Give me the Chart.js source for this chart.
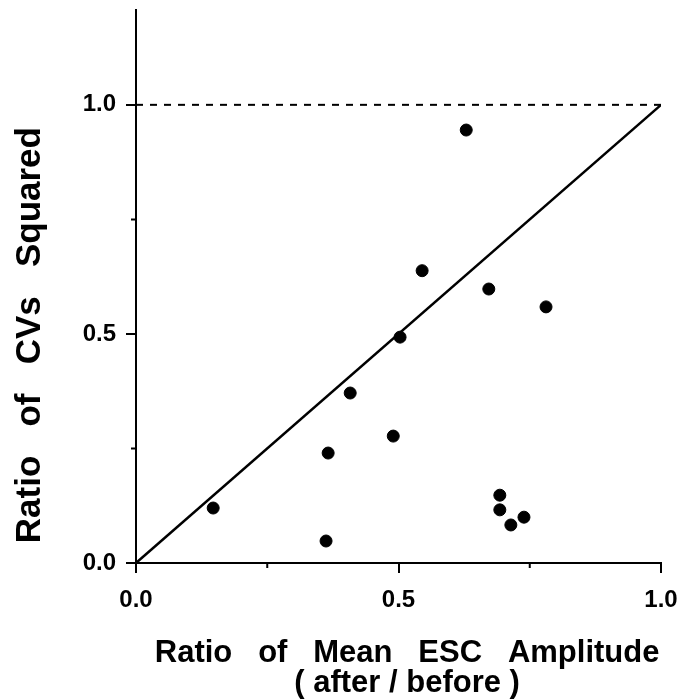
<!DOCTYPE html>
<html>
<head>
<meta charset="utf-8">
<script src="https://cdn.jsdelivr.net/npm/chart.js@4.4.1/dist/chart.umd.min.js"></script>
<style>
html,body{margin:0;padding:0;background:#fff;}
#wrap{width:692px;height:700px;}
</style>
</head>
<body>
<div id="wrap"><canvas id="c" width="692" height="700"></canvas></div>
<script>
// Data
const meanRatio = [0.629, 0.545, 0.672, 0.781, 0.503, 0.408, 0.490, 0.366, 0.147, 0.362, 0.693, 0.693, 0.714, 0.739];
const cvRatio   = [0.945, 0.638, 0.598, 0.559, 0.493, 0.371, 0.277, 0.240, 0.120, 0.048, 0.148, 0.116, 0.083, 0.100];
const identityX = [0, 1];
const identityY = [0, 1];
const refLineX = [0, 1];
const refLineY = [1, 1];
const xMajorTicks = [0, 0.5, 1.0];
const yMajorTicks = [0, 0.5, 1.0];
const xMinorTicks = [0.25, 0.75];
const yMinorTicks = [0.25, 0.75];
const xTitle = ['\u00a0\u00a0Ratio   of   Mean   ESC   Amplitude', '\u00a0\u00a0( after / before )'];
const yTitle = 'Ratio   of   CVs   Squared' + '\u00a0'.repeat(10);

const pts = meanRatio.map((x, i) => ({x: x, y: cvRatio[i]}));
const idLine = identityX.map((x, i) => ({x: x, y: identityY[i]}));
const refLine = refLineX.map((x, i) => ({x: x, y: refLineY[i]}));

const FONT = '"Liberation Sans", Arial, Helvetica, sans-serif';

const minorTicks = {
  id: 'minorTicks',
  afterDraw(chart) {
    const ctx = chart.ctx;
    const xs = chart.scales.x, ys = chart.scales.y;
    ctx.save();
    ctx.strokeStyle = '#000';
    ctx.lineWidth = 2;
    ctx.beginPath();
    xMinorTicks.forEach(v => {
      const px = xs.getPixelForValue(v);
      ctx.moveTo(px, chart.chartArea.bottom);
      ctx.lineTo(px, chart.chartArea.bottom + 5);
    });
    yMinorTicks.forEach(v => {
      const py = ys.getPixelForValue(v);
      ctx.moveTo(chart.chartArea.left, py);
      ctx.lineTo(chart.chartArea.left - 5, py);
    });
    ctx.stroke();
    ctx.restore();
  }
};

new Chart(document.getElementById('c'), {
  type: 'scatter',
  data: {
    datasets: [
      {
        label: 'cells',
        data: pts,
        backgroundColor: '#000',
        borderColor: '#000',
        pointRadius: 6,
        pointHoverRadius: 6,
        order: 0
      },
      {
        label: 'identity',
        data: idLine,
        showLine: true,
        borderColor: '#000',
        borderWidth: 2.5,
        pointRadius: 0,
        fill: false,
        order: 1
      },
      {
        label: 'unity',
        data: refLine,
        showLine: true,
        borderColor: '#000',
        borderWidth: 2,
        borderDash: [7, 7],
        pointRadius: 0,
        fill: false,
        order: 2
      }
    ]
  },
  options: {
    responsive: false,
    animation: false,
    events: [],
    layout: { padding: { top: 10, right: 31, left: 0, bottom: 0 } },
    plugins: { legend: { display: false }, tooltip: { enabled: false } },
    scales: {
      x: {
        type: 'linear',
        min: 0, max: 1,
        afterBuildTicks: s => { s.ticks = xMajorTicks.map(v => ({value: v})); },
        afterFit: s => { s.height = 137; s.paddingLeft = 0; s.paddingRight = 0; },
        border: { display: true, color: '#000', width: 2 },
        grid: { drawOnChartArea: false, drawTicks: true, tickLength: 10, color: '#000', lineWidth: 2 },
        ticks: {
          color: '#000',
          padding: 13,
          maxRotation: 0,
          font: { family: FONT, size: 24, weight: 'bold' },
          callback: v => Number(v).toFixed(1)
        },
        title: {
          display: true,
          text: xTitle,
          color: '#000',
          font: { family: FONT, size: 31, weight: 'bold', lineHeight: 0.95 },
          padding: { top: 10, bottom: 2 }
        }
      },
      y: {
        type: 'linear',
        min: 0, max: 1.207,
        afterBuildTicks: s => { s.ticks = yMajorTicks.map(v => ({value: v})); },
        afterFit: s => { s.width = 136; s.paddingTop = 0; s.paddingBottom = 0; },
        border: { display: true, color: '#000', width: 2 },
        grid: { drawOnChartArea: false, drawTicks: true, tickLength: 10, color: '#000', lineWidth: 2 },
        ticks: {
          color: '#000',
          padding: 10,
          font: { family: FONT, size: 24, weight: 'bold' },
          callback: v => Number(v).toFixed(1)
        },
        title: {
          display: true,
          text: yTitle,
          color: '#000',
          font: { family: FONT, size: 35, weight: 'bold' },
          padding: { top: 9, bottom: 4 }
        }
      }
    }
  },
  plugins: [minorTicks]
});
</script>
</body>
</html>
